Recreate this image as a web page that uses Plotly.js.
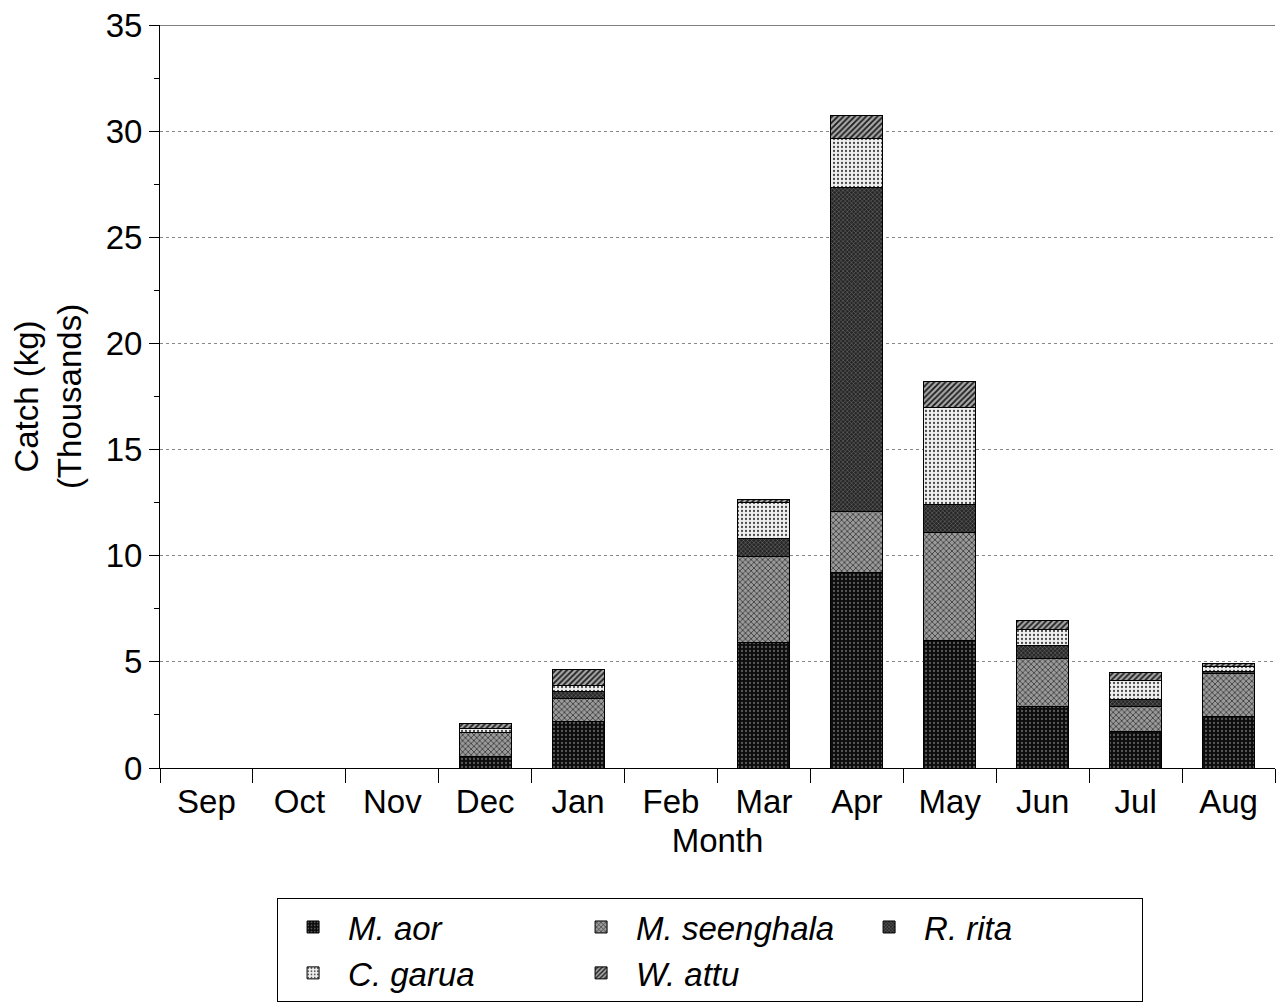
<!DOCTYPE html>
<html>
<head>
<meta charset="utf-8">
<script src="https://cdn.plot.ly/plotly-3.0.1.min.js"></script>
<style>html,body{margin:0;padding:0;background:#fff;}#chart{width:1277px;height:1006px;}</style>
</head>
<body>
<div id="chart"></div>
<script>
const months = ["Sep","Oct","Nov","Dec","Jan","Feb","Mar","Apr","May","Jun","Jul","Aug"];
const mAor       = [0, 0, 0, 0.53, 2.18, 0, 5.9, 9.2, 6.0, 2.89, 1.71, 2.42];
const mSeenghala = [0, 0, 0, 1.13, 1.10, 0, 4.05, 2.9, 5.1, 2.28, 1.18, 2.04];
const rRita      = [0, 0, 0, 0.0, 0.32, 0, 0.85, 15.25, 1.3, 0.62, 0.35, 0.1];
const cGarua     = [0, 0, 0, 0.2, 0.31, 0, 1.7, 2.3, 4.6, 0.74, 0.9, 0.2];
const wAttu      = [0, 0, 0, 0.24, 0.71, 0, 0.15, 1.1, 1.2, 0.44, 0.35, 0.15];
const seriesNames = ["M. aor", "M. seenghala", "R. rita", "C. garua", "W. attu"];

const styles = [
  {bg:"#0c0c0c", fg:"#5a5a5a", shape:".", size:4, sol:0.25},
  {bg:"#9a9a9a", fg:"#1e1e1e", shape:"x", size:4, sol:0.3},
  {bg:"#262626", fg:"#7a7a7a", shape:"x", size:3, sol:0.3},
  {bg:"#f0f0f0", fg:"#4a4a4a", shape:".", size:4, sol:0.25},
  {bg:"#a8a8a8", fg:"#1a1a1a", shape:"/", size:4, sol:0.45}
];
const allData = [mAor, mSeenghala, rRita, cGarua, wAttu];
const traces = allData.map((vals, i) => ({
  type: "bar",
  name: seriesNames[i],
  x: months,
  y: vals,
  marker: {
    color: styles[i].bg,
    line: {color: "#000", width: 1},
    pattern: {shape: styles[i].shape, fgcolor: styles[i].fg, bgcolor: styles[i].bg, size: styles[i].size, solidity: styles[i].sol}
  },
  hoverinfo: "skip"
}));

const font = {family: "Liberation Sans, Arial, sans-serif", color: "#000"};
const layout = {
  width: 1277, height: 1006,
  paper_bgcolor: "#fff", plot_bgcolor: "#fff",
  barmode: "stack",
  bargap: 0.44,
  margin: {l: 160, r: 2, t: 25, b: 238, autoexpand: false},
  font: Object.assign({size: 33}, font),
  showlegend: true,
  legend: {
    orientation: "h",
    x: 0.105, xanchor: "left",
    y: -0.175, yanchor: "top",
    itemwidth: 60,
    entrywidth: 213,
    traceorder: "normal",
    bordercolor: "#000", borderwidth: 1,
    bgcolor: "#fff",
    font: Object.assign({size: 33, style: "italic"}, font)
  },
  xaxis: {
    type: "category",
    tickson: "boundaries",
    ticks: "outside", ticklen: 14, tickwidth: 1, tickcolor: "#000",
    ticklabelstandoff: 4,
    showline: true, linecolor: "#000", linewidth: 1,
    showgrid: false,
    tickfont: Object.assign({size: 33}, font),
    title: {text: "Month", font: Object.assign({size: 33}, font), standoff: 10},
    range: [-0.5, 11.5]
  },
  yaxis: {
    range: [0, 35],
    dtick: 5,
    ticks: "outside", ticklen: 10, tickwidth: 1, tickcolor: "#000",
    minor: {dtick: 2.5, ticks: "outside", ticklen: 5, tickcolor: "#000", showgrid: false},
    showline: true, linecolor: "#000", linewidth: 1,
    showgrid: true, gridcolor: "#888", griddash: "dot", gridwidth: 1,
    zeroline: false,
    tickfont: Object.assign({size: 33}, font),
    title: {text: "Catch (kg)<br>(Thousands)", font: Object.assign({size: 33}, font), standoff: 14}
  },
  shapes: [
    {type: "line", xref: "paper", yref: "y", x0: 0, x1: 1, y0: 35, y1: 35, line: {color: "#000", width: 1}}
  ]
};

Plotly.newPlot("chart", traces, layout, {displayModeBar: false, staticPlot: true});
</script>
</body>
</html>
